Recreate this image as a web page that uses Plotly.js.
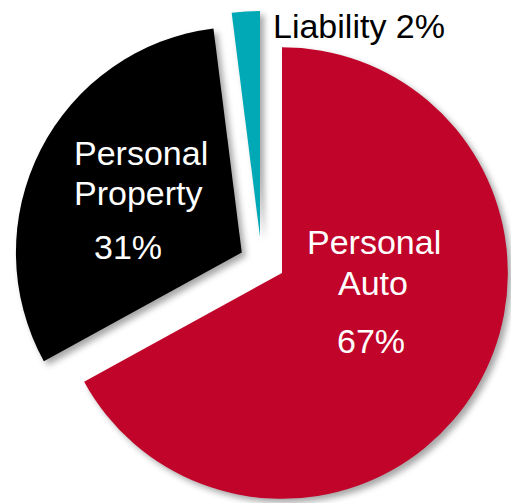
<!DOCTYPE html>
<html>
<head>
<meta charset="utf-8">
<script src="https://cdn.plot.ly/plotly-3.0.1.min.js"></script>
<style>
  html, body { margin: 0; padding: 0; width: 511px; height: 503px; overflow: hidden; background: #ffffff; }
  #chart { position: absolute; left: 11px; top: 2px; width: 542px; height: 542px; }
  .pielayer .slice path.surface { filter: drop-shadow(4px 4px 3px rgba(0,0,0,0.35)); }
</style>
</head>
<body>
<div id="chart"></div>
<script>
// ---- data ----
const labels = ['Personal Auto', 'Personal Property', 'Liability'];
const shares = [67, 31, 2];

// ---- styling ----
const mainColors = ['#c1042a', '#000000', 'rgba(0,0,0,0)'];
const tealColors = ['rgba(0,0,0,0)', 'rgba(0,0,0,0)', '#00a9b5'];
const mainPull = [0, 0.2, 0];
const FONT = 'Liberation Sans, Arial, Helvetica, sans-serif';

const mainTrace = {
  type: 'pie',
  labels: labels,
  values: shares,
  sort: false,
  direction: 'clockwise',
  rotation: 0,
  pull: mainPull,
  marker: { colors: mainColors, line: { width: 0 } },
  textinfo: 'none',
  hoverinfo: 'none',
  showlegend: false,
  domain: { x: [0, 1], y: [0, 1] }
};

const liabilityTrace = {
  type: 'pie',
  labels: labels,
  values: shares,
  sort: false,
  direction: 'clockwise',
  rotation: 0,
  marker: { colors: tealColors, line: { width: 0 } },
  textinfo: 'none',
  hoverinfo: 'none',
  showlegend: false,
  domain: { x: [0.04244, 0.87638], y: [0.14945, 0.98339] }
};

function nameLines(i) { return labels[i].split(' '); }
function pctText(i) { return shares[i] + '%'; }

const whiteFont = { family: FONT, size: 34, color: '#ffffff' };

const annotations = [
  { text: nameLines(0)[0], x: 0.6697, y: 0.5570, font: whiteFont },
  { text: nameLines(0)[1], x: 0.6679, y: 0.4814, font: whiteFont },
  { text: pctText(0),      x: 0.6642, y: 0.3744, font: whiteFont },
  { text: nameLines(1)[0], x: 0.2399, y: 0.7212, font: whiteFont },
  { text: nameLines(1)[1], x: 0.2352, y: 0.6474, font: whiteFont },
  { text: pctText(1),      x: 0.2159, y: 0.5478, font: whiteFont },
  { text: labels[2] + ' ' + pctText(2), x: 0.6421, y: 0.9555,
    font: { family: FONT, size: 34, color: '#000000' } }
].map(a => Object.assign({
  xref: 'paper', yref: 'paper', showarrow: false,
  xanchor: 'center', yanchor: 'middle', align: 'center'
}, a));

const layout = {
  width: 542,
  height: 542,
  margin: { l: 0, r: 0, t: 0, b: 0, pad: 0 },
  paper_bgcolor: 'rgba(0,0,0,0)',
  plot_bgcolor: 'rgba(0,0,0,0)',
  showlegend: false,
  annotations: annotations
};

Plotly.newPlot('chart', [mainTrace, liabilityTrace], layout, { displayModeBar: false, staticPlot: true });
</script>
</body>
</html>
